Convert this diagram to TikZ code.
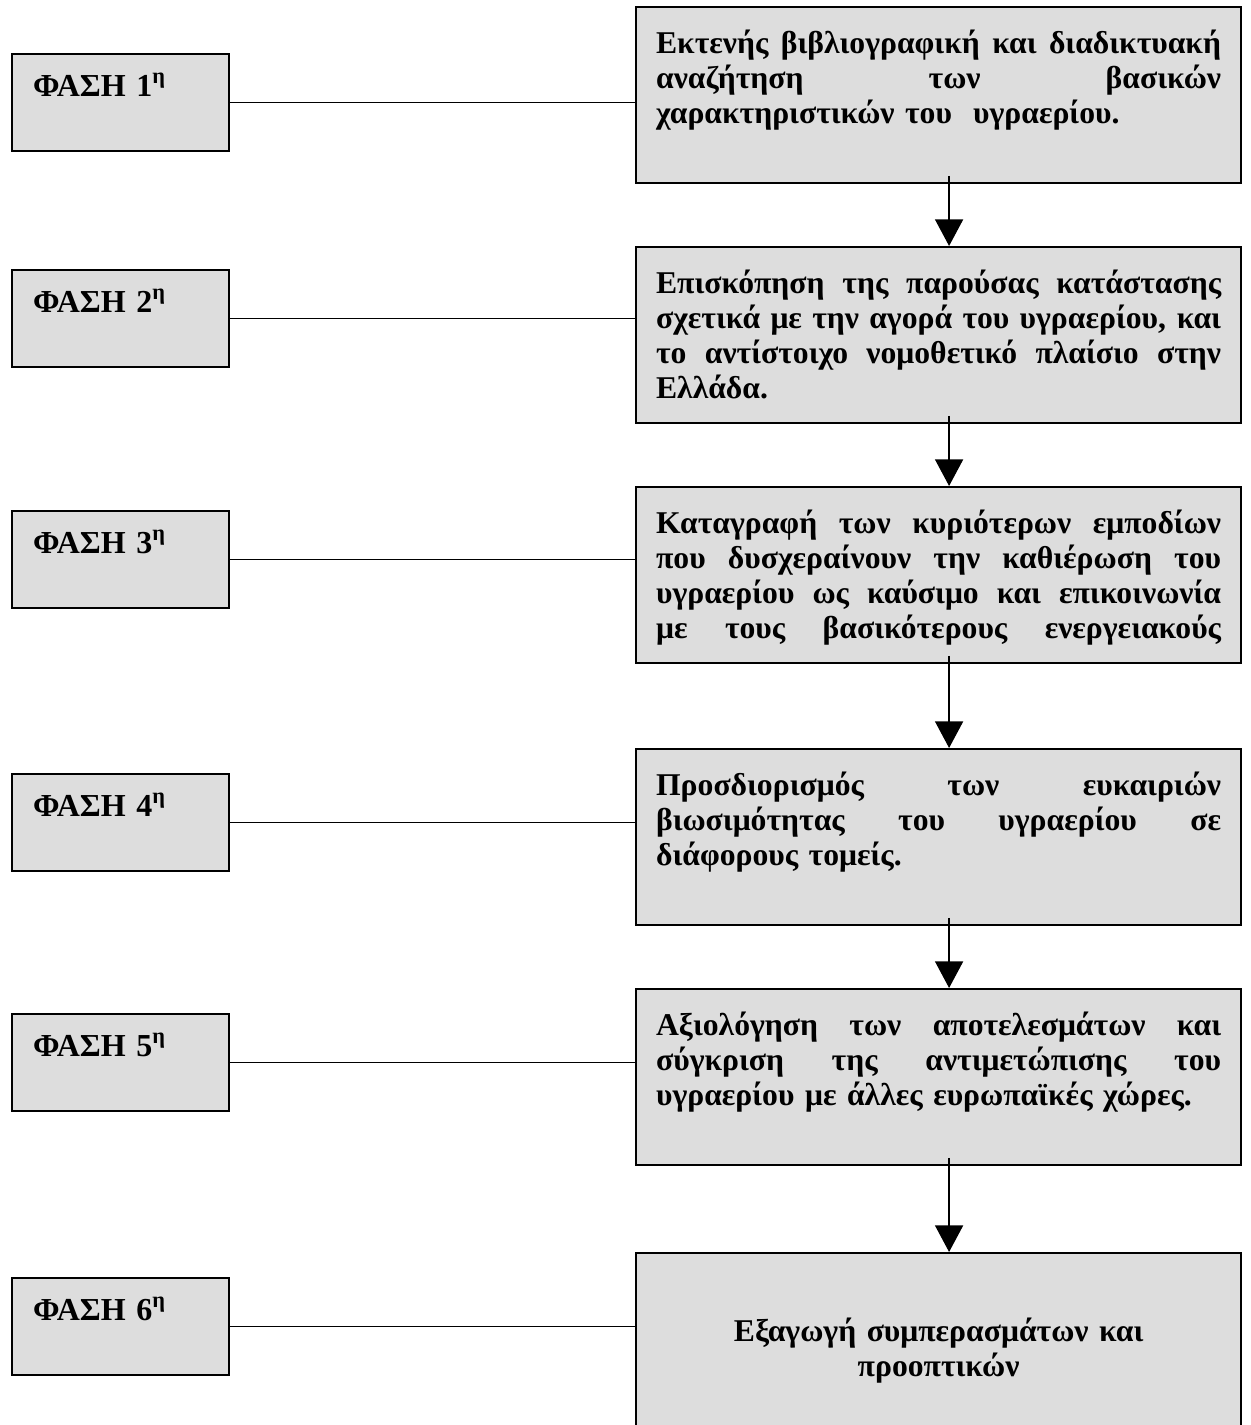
\documentclass[tikz,border=0pt]{standalone}
\usepackage{fontspec}
\setmainfont{Liberation Serif}
\usetikzlibrary{arrows.meta}
\definecolor{boxgray}{RGB}{221,221,221}
\newlength{\tasktw}
\setlength{\tasktw}{339pt}
\newcommand{\jline}[1]{\makebox[\tasktw][s]{\spaceskip=0pt\xspaceskip=0pt #1}}
\begin{document}
\begin{tikzpicture}[x=0.6pt,y=-0.6pt,
  phase/.style={draw, fill=boxgray, line width=1.3pt, anchor=north west,
    inner xsep=12.6pt, inner ysep=0pt, text width=105pt,
    text height=25.2pt, text depth=33pt, align=left,
    font=\fontsize{19.2}{23}\selectfont\bfseries},
  task/.style={draw, fill=boxgray, line width=1.3pt, anchor=north west,
    inner xsep=12pt, inner ysep=0pt, text width=\tasktw,
    text height=27.6pt, text depth=78pt, align=left,
    font=\fontsize{19}{21}\selectfont\bfseries},
  link/.style={line width=0.9pt},
  flow/.style={line width=1.1pt, -{Triangle[width=16.8pt,length=16pt]}}]
\clip (0,0) rectangle (1250,1425);
% phases
\node[phase] (p1) at (11,53) {ΦΑΣΗ 1\textsuperscript{η}};
\node[phase] (p2) at (11,269) {ΦΑΣΗ 2\textsuperscript{η}};
\node[phase] (p3) at (11,510) {ΦΑΣΗ 3\textsuperscript{η}};
\node[phase] (p4) at (11,773) {ΦΑΣΗ 4\textsuperscript{η}};
\node[phase] (p5) at (11,1013) {ΦΑΣΗ 5\textsuperscript{η}};
\node[phase] (p6) at (11,1277) {ΦΑΣΗ 6\textsuperscript{η}};
% tasks
\node[task] (t1) at (635,6) {\jline{Εκτενής βιβλιογραφική και διαδικτυακή}\\
  \jline{αναζήτηση των βασικών}\\
  χαρακτηριστικών του~ υγραερίου.};
\node[task] (t2) at (635,246) {\jline{Επισκόπηση της παρούσας κατάστασης}\\
  \jline{σχετικά με την αγορά του υγραερίου, και}\\
  \jline{το αντίστοιχο νομοθετικό πλαίσιο στην}\\
  Ελλάδα.};
\node[task] (t3) at (635,486) {\jline{Καταγραφή των κυριότερων εμποδίων}\\
  \jline{που δυσχεραίνουν την καθιέρωση του}\\
  \jline{υγραερίου ως καύσιμο και επικοινωνία}\\
  \jline{με τους βασικότερους ενεργειακούς}};
\node[task] (t4) at (635,748) {\jline{Προσδιορισμός των ευκαιριών}\\
  \jline{βιωσιμότητας του υγραερίου σε}\\
  διάφορους τομείς.};
\node[task] (t5) at (635,988) {\jline{Αξιολόγηση των αποτελεσμάτων και}\\
  \jline{σύγκριση της αντιμετώπισης του}\\
  υγραερίου με άλλες ευρωπαϊκές χώρες.};
\node[task, align=center, text height=52.8pt, text depth=62pt] (t6) at (635,1252)
  {Εξαγωγή συμπερασμάτων και\\ προοπτικών};
% links
\foreach \i in {1,...,6}
  \draw[link] (p\i.east) -- (p\i.east -| t\i.west);
% flow
\foreach \i/\j in {1/2,2/3,3/4,4/5,5/6}
  \draw[flow] ([xshift=6.3pt,yshift=5pt]t\i.south) -- ([xshift=6.3pt]t\j.north);
\end{tikzpicture}
\end{document}
